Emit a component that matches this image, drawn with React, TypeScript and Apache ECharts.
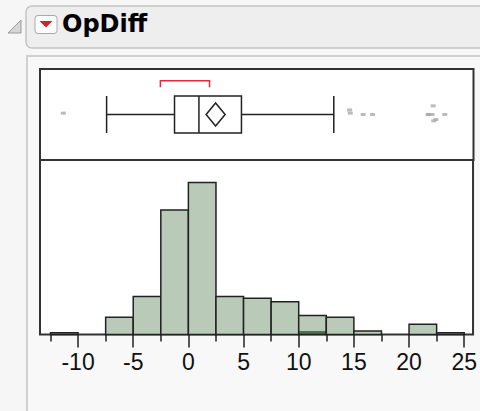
import React, { useEffect, useRef } from "react";
import * as echarts from "echarts";

// Histogram bins (edges) and counts
const binEdges = [-12.5, -10, -7.5, -5, -2.5, 0, 2.5, 5, 7.5, 10, 12.5, 15, 17.5, 20, 22.5, 25];
const binCounts = [1, 0, 10, 22, 72, 88, 22, 21, 19, 11, 10, 2, 0, 6, 1];
const selectedCounts = [0, 0, 0, 0, 0, 0, 0, 0, 0, 2, 0, 0, 0, 0, 0];

// Box plot statistics: min whisker, Q1, median, Q3, max whisker
const boxFive = [-7.42, -1.27, 0.94, 4.79, 13.15];
const meanValue = [2.45];
const meanCI = [1.59, 3.31];
const shortestHalf = [-2.55, 1.9];

// Outliers (value, vertical jitter)
const outlierX = [-11.34, 14.58, 14.64, 15.81, 16.66, 21.69, 21.75, 22.15, 22.2, 22.4, 22.05, 23.2];
const outlierJitter = [0.03, 0.1, 0.03, 0.0, 0.0, 0.0, 0.0, 0.19, -0.14, -0.11, 0.0, 0.0];

// Axis ticks / labels
const minorTicks = [-12.5, -7.5, -2.5, 2.5, 7.5, 12.5, 17.5, 22.5];
const majorTicks = [-10, -5, 0, 5, 10, 15, 20, 25];

const X_MIN = -13.45;
const X_MAX = 25.8;

export default function App() {
  const ref = useRef<HTMLDivElement>(null);
  useEffect(() => {
    if (!ref.current) return;
    const chart = echarts.init(ref.current, null, { renderer: "svg" });
    const histData = binCounts.map((c, i) => [binEdges[i], binEdges[i + 1], c, selectedCounts[i]]);
    const outData = outlierX.map((x, i) => [x, outlierJitter[i]]);
    const tickStyle = { color: "#222", width: 1.5 };
    chart.setOption({
      animation: false,
      backgroundColor: "#f6f6f6",
      graphic: [
        {
          type: "rect",
          shape: { x: 26, y: 6, width: 470, height: 42, r: 6 },
          style: { fill: "#eeeeee", stroke: "#c4c4c4", lineWidth: 1.5 },
          z: 0,
        },
        {
          type: "polygon",
          shape: { points: [[8, 33], [21, 20], [21, 33]] },
          style: { fill: "#d6d6d6", stroke: "#9a9a9a", lineWidth: 1 },
        },
        {
          type: "rect",
          shape: { x: 35, y: 15.5, width: 22, height: 18, r: 3 },
          style: { fill: "#ffffff", stroke: "#a8a8a8", lineWidth: 1 },
        },
        {
          type: "polygon",
          shape: { points: [[39.5, 21], [52.5, 21], [46, 27.5]] },
          style: { fill: "#d4202c" },
        },
        {
          type: "text",
          x: 62,
          y: 24,
          style: {
            text: "OpDiff",
            font: "bold 24px 'DejaVu Sans', Verdana, sans-serif",
            fill: "#000",
            verticalAlign: "middle",
          },
        },
        {
          type: "rect",
          shape: { x: 27, y: 56, width: 470, height: 400 },
          style: { fill: "#f8f8f8", stroke: "#d0d0d0", lineWidth: 2 },
          z: -1,
        },
      ],
      grid: [
        { left: 40, right: 6.5, top: 69, height: 91, show: true, backgroundColor: "#fff", borderColor: "#333", borderWidth: 2 },
        { left: 40, right: 6.5, top: 160, height: 174.5, show: true, backgroundColor: "#fff", borderColor: "#333", borderWidth: 2 },
      ],
      xAxis: [
        { gridIndex: 0, type: "value", min: X_MIN, max: X_MAX, show: false },
        {
          gridIndex: 1,
          type: "value",
          min: X_MIN,
          max: X_MAX,
          position: "bottom",
          axisLine: { show: false },
          splitLine: { show: false },
          axisTick: { show: true, customValues: minorTicks, length: 7, lineStyle: tickStyle },
          axisLabel: { show: false },
        },
        {
          gridIndex: 1,
          type: "value",
          min: X_MIN,
          max: X_MAX,
          position: "bottom",
          axisLine: { show: false },
          splitLine: { show: false },
          axisTick: { show: true, customValues: majorTicks, length: 13, lineStyle: tickStyle },
          axisLabel: {
            show: true,
            customValues: majorTicks,
            fontSize: 23,
            fontFamily: "'Liberation Sans', Arial, sans-serif",
            color: "#111",
            margin: 16,
          },
        },
      ],
      yAxis: [
        { gridIndex: 0, type: "category", data: ["OpDiff"], show: false },
        { gridIndex: 0, type: "value", min: -1, max: 1, show: false },
        { gridIndex: 1, type: "value", min: 0, max: 101, show: false },
      ],
      series: [
        {
          type: "boxplot",
          xAxisIndex: 0,
          yAxisIndex: 0,
          data: [boxFive],
          boxWidth: [37, 37],
          itemStyle: { color: "#fff", borderColor: "#222", borderWidth: 1.5 },
          z: 3,
        },
        {
          type: "custom",
          xAxisIndex: 0,
          yAxisIndex: 1,
          data: [[meanValue[0]]],
          z: 4,
          renderItem: (_p: any, api: any) => {
            const h = 0.253;
            const pts = [
              api.coord([meanCI[0], 0]),
              api.coord([api.value(0), h]),
              api.coord([meanCI[1], 0]),
              api.coord([api.value(0), -h]),
            ];
            return { type: "polygon", shape: { points: pts }, style: { fill: "none", stroke: "#222", lineWidth: 1.5 } };
          },
        },
        {
          type: "custom",
          xAxisIndex: 0,
          yAxisIndex: 1,
          data: [shortestHalf],
          z: 4,
          renderItem: (_p: any, api: any) => {
            const lo = api.value(0);
            const hi = api.value(1);
            const pts = [api.coord([lo, 0.6]), api.coord([lo, 0.74]), api.coord([hi, 0.74]), api.coord([hi, 0.6])];
            return { type: "polyline", shape: { points: pts }, style: { fill: "none", stroke: "#e8283a", lineWidth: 1.5 } };
          },
        },
        {
          type: "scatter",
          xAxisIndex: 0,
          yAxisIndex: 1,
          data: outData,
          symbol: "rect",
          symbolSize: [5, 3],
          itemStyle: { color: "#aaaaaa" },
          z: 4,
        },
        {
          type: "custom",
          xAxisIndex: 1,
          yAxisIndex: 2,
          data: histData,
          z: 3,
          renderItem: (_p: any, api: any) => {
            const lo = api.value(0);
            const hi = api.value(1);
            const c = api.value(2);
            const s = api.value(3);
            if (!c) return { type: "group", children: [] };
            const p0 = api.coord([lo, 0]);
            const p1 = api.coord([hi, c]);
            const children: any[] = [
              { type: "rect", shape: { x: p0[0], y: p1[1], width: p1[0] - p0[0], height: p0[1] - p1[1] }, style: { fill: "#bacab9" } },
            ];
            if (s) {
              const ps = api.coord([hi, s]);
              children.push({ type: "rect", shape: { x: p0[0], y: ps[1], width: ps[0] - p0[0], height: p0[1] - ps[1] }, style: { fill: "#4f6e4f" } });
            }
            children.push({
              type: "rect",
              shape: { x: p0[0], y: p1[1], width: p1[0] - p0[0], height: p0[1] - p1[1] },
              style: { fill: "none", stroke: "#222", lineWidth: 1.5 },
            });
            return { type: "group", children };
          },
        },
      ],
    });
    return () => chart.dispose();
  }, []);
  return <div ref={ref} style={{ position: "fixed", left: 0, top: 0, width: 480, height: 411 }} />;
}
